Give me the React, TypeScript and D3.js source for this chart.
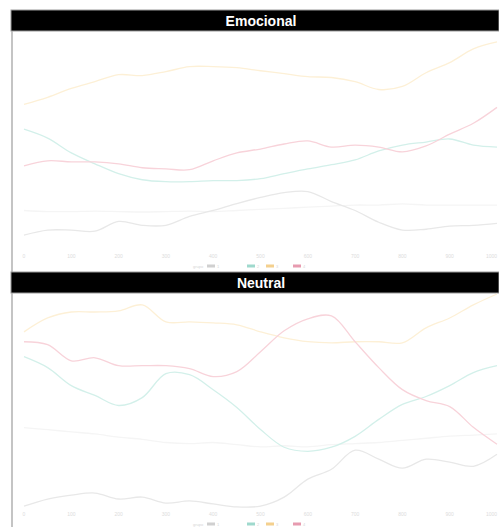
import React from 'react'
import * as d3 from 'd3'

// time points (shared by both panels)
const times = [0, 50, 100, 150, 200, 250, 300, 350, 400, 450, 500, 550, 600, 650, 700, 750, 800, 850, 900, 950, 1000]
const tickLabels = ['0', '100', '200', '300', '400', '500', '600', '700', '800', '900', '1000']
const seriesNames = ['1', '2', '3', '4']
const legendTitle = 'grupo'

// Emocional
const emoOrange = [6.82, 7.14, 7.55, 7.86, 8.18, 8.14, 8.32, 8.55, 8.55, 8.5, 8.36, 8.23, 8.09, 8.05, 7.86, 7.5, 7.64, 8.27, 8.73, 9.36, 9.68]
const emoRed = [4.0, 4.23, 4.18, 4.18, 4.09, 3.91, 3.86, 3.82, 4.23, 4.59, 4.77, 5.0, 5.14, 4.86, 4.95, 4.86, 4.64, 4.91, 5.45, 5.95, 6.68]
const emoTeal = [5.68, 5.27, 4.59, 4.09, 3.64, 3.36, 3.27, 3.27, 3.32, 3.32, 3.41, 3.64, 3.86, 4.05, 4.27, 4.68, 4.95, 5.09, 5.23, 4.95, 4.86]
const emoGray = [0.82, 1.05, 1.05, 1.0, 1.45, 1.27, 1.27, 1.68, 1.95, 2.27, 2.55, 2.77, 2.82, 2.36, 1.95, 1.41, 1.05, 1.09, 1.23, 1.27, 1.36]
const emoLight = [1.95, 1.9, 1.9, 1.92, 1.9, 1.88, 1.9, 1.92, 1.9, 1.95, 2.0, 2.05, 2.1, 2.15, 2.2, 2.2, 2.25, 2.2, 2.2, 2.2, 2.2]

// Neutral
const neuOrange = [8.37, 9.02, 9.3, 9.3, 9.35, 9.63, 8.84, 8.84, 8.79, 8.7, 8.37, 8.09, 7.91, 7.86, 7.91, 7.91, 7.86, 8.56, 9.02, 9.63, 10.14]
const neuRed = [7.91, 7.77, 7.02, 7.16, 6.79, 6.79, 6.79, 6.65, 6.28, 6.51, 7.44, 8.42, 8.98, 9.12, 7.91, 6.7, 5.67, 5.16, 4.88, 3.91, 3.12]
const neuTeal = [7.21, 6.7, 5.86, 5.4, 4.93, 5.3, 6.42, 6.37, 5.67, 4.84, 3.81, 2.98, 2.79, 2.98, 3.49, 4.28, 4.98, 5.35, 5.86, 6.47, 6.79]
const neuGray = [0.23, 0.56, 0.74, 0.84, 0.56, 0.65, 0.37, 0.47, 0.33, 0.19, 0.23, 0.65, 1.49, 1.95, 2.84, 2.42, 2.0, 2.42, 2.28, 2.09, 2.65]
const neuLight = [3.9, 3.8, 3.7, 3.6, 3.45, 3.35, 3.2, 3.15, 3.2, 3.1, 3.0, 3.05, 3.0, 3.1, 3.15, 3.2, 3.3, 3.4, 3.5, 3.55, 3.6]

const lineColors = ['#e8e8e8', '#d3f0ea', '#fdf0d6', '#f8d3da', '#f5f5f5']
const keyColors = ['#d0d0d0', '#9fd9cd', '#f4d08e', '#e79bb0']

const W = 499
const H = 527

const x = d3.scaleLinear().domain([0, 1000]).range([24, 497])

interface PanelProps {
  title: string
  top: number
  bottom: number
  series: number[][]
}

const Panel: React.FC<PanelProps> = ({ title, top, bottom, series }) => {
  const stripH = 21
  const plotTop = top + stripH
  const y = d3.scaleLinear().domain([0, 10]).range([bottom, plotTop + 4])
  const line = d3
    .line<number>()
    .x((_, i) => x(times[i]))
    .y((d) => y(d))
    .curve(d3.curveCatmullRom.alpha(0.5))
  // faint line first, then gray, teal, orange, red
  const order = [4, 0, 1, 2, 3]
  const legendY = bottom + 13
  const keyX = [207, 247, 266, 293]
  return (
    <g>
      <rect x={11} y={top} width={W - 11} height={stripH} fill="#000" stroke="#9a9a9a" strokeWidth={1} />
      <text
        x={261}
        y={top + stripH / 2 + 5}
        textAnchor="middle"
        fill="#fff"
        fontWeight="bold"
        fontSize={14}
        fontFamily="Liberation Sans, Arial, sans-serif"
      >
        {title}
      </text>
      <line x1={12} x2={12} y1={plotTop} y2={legendY + 6} stroke="#b0b0b0" strokeWidth={1.5} />
      {order.map((k) => (
        <path key={k} d={line(series[k]) || ''} fill="none" stroke={lineColors[k]} strokeWidth={1.3} />
      ))}
      {tickLabels.map((t, i) => (
        <text
          key={t}
          x={x(i * 100)}
          y={bottom + 5}
          textAnchor={i === tickLabels.length - 1 ? 'end' : 'middle'}
          fontSize={5}
          fill="#dcdcdc"
          fontFamily="Liberation Sans, Arial, sans-serif"
        >
          {t}
        </text>
      ))}
      <g fontFamily="Liberation Sans, Arial, sans-serif" fontSize={4} fill="#d6d6d6">
        <text x={keyX[0] - 14} y={legendY + 1.5}>
          {legendTitle}
        </text>
        {seriesNames.map((s, i) => (
          <g key={s}>
            <rect x={keyX[i]} y={legendY - 1.5} width={8} height={3} fill={keyColors[i]} />
            <text x={keyX[i] + 10} y={legendY + 1.5}>
              {s}
            </text>
          </g>
        ))}
      </g>
    </g>
  )
}

export default function App() {
  return (
    <svg width={W} height={H} style={{ position: 'absolute', left: 0, top: 0, background: '#fff' }}>
      <rect width={W} height={H} fill="#fff" />
      <Panel title="Emocional" top={10} bottom={253} series={[emoGray, emoTeal, emoOrange, emoRed, emoLight]} />
      <Panel title="Neutral" top={272} bottom={511} series={[neuGray, neuTeal, neuOrange, neuRed, neuLight]} />
    </svg>
  )
}
